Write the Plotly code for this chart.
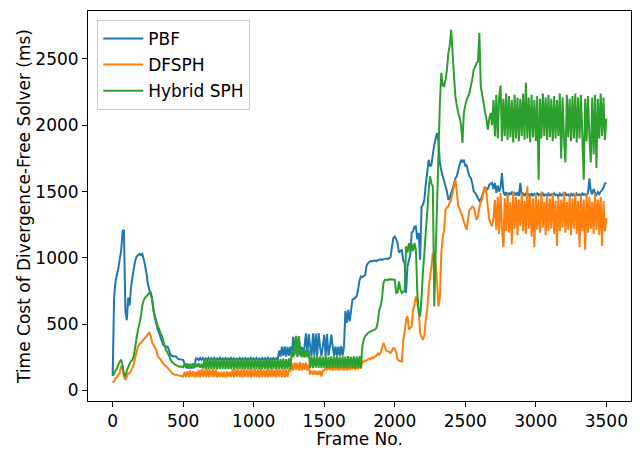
import plotly.graph_objects as go

# one reading every 10 frames, frames 0..3500
frame_no = list(range(0, 3501, 10))

pbf_ms = [
    110, 700, 820, 870, 920, 990, 1050, 1200, 1210, 600,
    530, 700, 640, 780, 850, 920, 980, 1010, 1020, 1030,
    1020, 1030, 990, 940, 880, 800, 760, 720, 690, 600,
    540, 500, 460, 430, 400, 370, 340, 335, 330, 330,
    300, 270, 260, 260, 255, 255, 240, 235, 235, 232,
    230, 200, 175, 170, 170, 170, 170, 170, 175, 240,
    240, 228, 245, 230, 244, 226, 242, 232, 246, 228,
    243, 230, 245, 227, 241, 233, 246, 229, 242, 231,
    244, 228, 241, 232, 245, 226, 243, 230, 240, 229,
    245, 231, 242, 227, 244, 233, 241, 228, 246, 230,
    242, 229, 245, 232, 240, 227, 244, 231, 243, 228,
    245, 230, 241, 233, 244, 228, 242, 231, 300, 255,
    330, 260, 332, 255, 328, 262, 330, 258, 405, 265,
    410, 260, 400, 262, 330, 258, 332, 430, 260, 425,
    330, 258, 430, 262, 428, 255, 432, 330, 260, 332,
    420, 258, 425, 262, 330, 420, 330, 258, 332, 262,
    330, 258, 335, 262, 330, 600, 510, 608, 520, 600,
    684, 690, 700, 710, 760, 830, 860, 855, 865, 870,
    940, 960, 968, 975, 972, 978, 980, 975, 982, 985,
    988, 984, 990, 992, 995, 990, 998, 1005, 1080, 1150,
    1160, 1140, 1110, 1040, 1050, 1062, 980, 960, 735, 935,
    980, 1020, 1190, 1200, 1237, 1237, 1140, 1187, 985, 1388,
    1400, 1438, 1560, 1640, 1740, 1690, 1700, 1780, 1850, 1900,
    1942, 1880, 1715, 1660, 1615, 1580, 1540, 1500, 1438, 1450,
    1490, 1520, 1560, 1600, 1615, 1660, 1700, 1740, 1720, 1740,
    1690, 1700, 1650, 1615, 1600, 1560, 1500, 1490, 1470, 1450,
    1427, 1440, 1470, 1500, 1540, 1510, 1520, 1550, 1560, 1565,
    1520, 1565, 1490, 1545, 1500, 1530, 1640, 1500, 1470, 1495,
    1465, 1490, 1475, 1500, 1468, 1488, 1472, 1495, 1466, 1565,
    1470, 1485, 1466, 1490, 1470, 1480, 1462, 1488, 1470, 1482,
    1468, 1490, 1472, 1480, 1465, 1486, 1470, 1478, 1463, 1485,
    1470, 1480, 1466, 1487, 1472, 1478, 1464, 1484, 1470, 1479,
    1466, 1486, 1471, 1478, 1463, 1482, 1470, 1480, 1466, 1485,
    1472, 1479, 1468, 1486, 1474, 1480, 1470, 1490, 1600, 1500,
    1480, 1520, 1490, 1475, 1495, 1480, 1500, 1510, 1530, 1560,
    1565,
]

dfsph_ms = [
    58, 70, 90, 100, 115, 133, 180, 175, 105, 80,
    100, 130, 130, 150, 170, 200, 250, 290, 332, 350,
    360, 370, 385, 397, 410, 425, 435, 410, 358, 340,
    320, 300, 257, 245, 232, 215, 200, 190, 180, 170,
    156, 145, 130, 125, 118, 118, 115, 112, 110, 108,
    105, 140, 100, 145, 98, 150, 102, 145, 100, 140,
    100, 155, 98, 160, 102, 158, 100, 162, 98, 156,
    102, 160, 100, 158, 98, 140, 102, 138, 100, 140,
    98, 142, 102, 138, 100, 160, 98, 158, 102, 162,
    100, 156, 98, 160, 102, 158, 100, 162, 98, 156,
    102, 160, 100, 158, 98, 162, 102, 156, 100, 160,
    98, 158, 102, 162, 100, 156, 98, 160, 102, 158,
    100, 162, 98, 156, 102, 160, 140, 205, 150, 210,
    155, 208, 150, 212, 152, 205, 155, 210, 150, 195,
    120, 148, 118, 150, 120, 145, 118, 148, 105, 150,
    152, 182, 150, 185, 155, 180, 150, 184, 152, 182,
    150, 185, 155, 180, 150, 184, 152, 182, 155, 180,
    160, 180, 155, 185, 160, 180, 165, 220, 215, 225,
    225, 232, 240, 235, 250, 245, 257, 260, 280, 265,
    290, 320, 357, 330, 300, 295, 290, 282, 300, 320,
    315, 290, 232, 225, 220, 219, 380, 433, 533, 560,
    458, 470, 483, 609, 650, 709, 660, 600, 433, 400,
    383, 420, 533, 608, 760, 850, 935, 1037, 1010, 960,
    810, 634, 700, 1037, 1150, 1212, 1363, 1380, 1388, 1420,
    1438, 1490, 1540, 1590, 1500, 1388, 1370, 1340, 1310, 1270,
    1240, 1212, 1300, 1363, 1370, 1388, 1380, 1330, 1288, 1310,
    1380, 1420, 1438, 1500, 1540, 1480, 1380, 1288, 1260, 1237,
    1300, 1438, 1210, 1460, 1180, 1490, 1230, 1080, 1450, 1200,
    1480, 1190, 1420, 1100, 1500, 1220, 1460, 1170, 1440, 1240,
    1490, 1200, 1430, 1180, 1540, 1220, 1470, 1160, 1450, 1080,
    1480, 1210, 1440, 1190, 1500, 1230, 1420, 1170, 1470, 1200,
    1450, 1220, 1490, 1180, 1430, 1090, 1460, 1200, 1440, 1230,
    1500, 1190, 1420, 1210, 1470, 1170, 1450, 1220, 1490, 1180,
    1430, 1080, 1470, 1200, 1440, 1060, 1480, 1190, 1460, 1220,
    1420, 1180, 1490, 1210, 1440, 1170, 1460, 1090, 1430, 1200,
    1300,
]

hybrid_ms = [
    110, 125, 150, 165, 195, 215, 232, 190, 120, 110,
    150, 175, 200, 220, 232, 260, 330, 400, 460, 505,
    560, 640, 680, 700, 710, 720, 735, 745, 680, 600,
    560, 520, 485, 460, 430, 410, 370, 330, 300, 282,
    260, 232, 215, 207, 195, 190, 185, 180, 178, 180,
    175, 200, 172, 205, 170, 200, 175, 205, 172, 200,
    175, 205, 172, 200, 165, 235, 160, 240, 158, 242,
    160, 238, 162, 240, 158, 236, 160, 242, 162, 238,
    158, 240, 160, 236, 162, 242, 158, 238, 160, 240,
    162, 236, 158, 242, 160, 238, 162, 240, 158, 236,
    160, 242, 162, 238, 158, 240, 160, 236, 162, 242,
    158, 238, 160, 240, 162, 236, 158, 242, 160, 238,
    162, 240, 158, 236, 160, 242, 160, 305, 250, 305,
    412, 250, 410, 305, 250, 300, 248, 305, 250, 300,
    170, 255, 168, 258, 172, 252, 170, 256, 168, 254,
    172, 258, 170, 252, 168, 256, 172, 254, 170, 258,
    168, 252, 172, 256, 170, 254, 168, 258, 172, 252,
    170, 256, 168, 254, 172, 258, 170, 332, 380, 410,
    420, 433, 440, 445, 450, 455, 460, 470, 520, 608,
    634, 700, 810, 835, 835, 830, 840, 835, 838, 835,
    835, 735, 740, 822, 760, 735, 747, 745, 1087, 1040,
    1110, 1045, 1105, 1050, 1112, 1060, 735, 584, 558, 700,
    900, 1037, 1200, 1338, 1500, 1615, 1560, 1540, 634, 1037,
    1400, 1790, 2168, 2395, 2300, 2294, 2344, 2420, 2546, 2600,
    2721, 2546, 2369, 2218, 2150, 2093, 2060, 2000, 1866, 2093,
    2150, 2193, 2220, 2244, 2300, 2350, 2420, 2440, 2470, 2480,
    2697, 2294, 2230, 2168, 2100, 2050, 1967, 2050, 2093, 2000,
    2190, 1916, 2230, 1900, 2210, 2300, 1880, 2200, 1920, 2240,
    1890, 2220, 1910, 2190, 1870, 2230, 1900, 2210, 1880, 2200,
    1920, 2240, 1890, 2320, 1900, 2210, 1870, 2230, 1910, 2190,
    1880, 2220, 1590, 2200, 1900, 2240, 1920, 2210, 1890, 2230,
    1910, 2200, 1880, 2220, 1900, 2190, 1920, 2240, 1750, 2210,
    1890, 1720, 2230, 1910, 2200, 1880, 2220, 1900, 2240, 1870,
    2210, 1900, 2230, 1920, 1590, 2200, 1880, 2220, 1910, 1720,
    2210, 1780, 2230, 1678, 2200, 1900, 2240, 1920, 2210, 1890,
    2050,
]

series = [
    ("PBF", pbf_ms, "#1f77b4"),
    ("DFSPH", dfsph_ms, "#ff7f0e"),
    ("Hybrid SPH", hybrid_ms, "#2ca02c"),
]
x_ticks = [0, 500, 1000, 1500, 2000, 2500, 3000, 3500]
y_ticks = [0, 500, 1000, 1500, 2000, 2500]

font = "DejaVu Sans, Arial, sans-serif"

fig = go.Figure()
for name, vals, color in series:
    fig.add_trace(go.Scatter(
        x=frame_no, y=vals, mode="lines", name=name, legendgroup=name,
        line=dict(color=color, width=2, simplify=False),
    ))

axis_style = dict(
    showgrid=False, zeroline=False, showline=True, mirror=True,
    linecolor="black", linewidth=1, ticks="outside", ticklen=5,
    tickwidth=1, tickcolor="black", tickfont=dict(size=17, color="black"),
    automargin=False,
)
fig.update_xaxes(range=[-175, 3675], tickvals=x_ticks,
                 title=dict(text="Frame No.", font=dict(size=17, color="black")),
                 **axis_style)
fig.update_yaxes(range=[-80, 2862], tickvals=y_ticks,
                 title=dict(text="Time Cost of Divergence-Free Solver (ms)",
                            font=dict(size=17, color="black"), standoff=0),
                 **axis_style)
# the page body adds an 8px margin, so the figure is 8px smaller each way
fig.update_layout(
    width=635, height=441,
    margin=dict(l=80, r=12, t=3, b=48),
    paper_bgcolor="white", plot_bgcolor="white",
    font=dict(family=font, size=17, color="black"),
    legend=dict(x=0.017, y=0.977, xanchor="left", yanchor="top",
                bgcolor="rgba(255,255,255,0.8)", bordercolor="#cccccc",
                borderwidth=1, tracegroupgap=1, itemwidth=40,
                font=dict(size=17)),
)
fig.write_html("out.html")
